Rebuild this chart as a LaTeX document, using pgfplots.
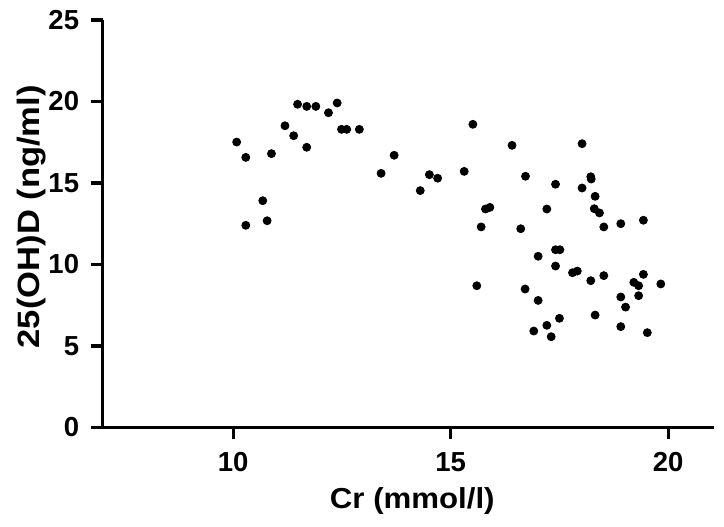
\documentclass[border=0pt]{standalone}
\usepackage{fontspec}
\setmainfont{Liberation Sans}
\usepackage{graphicx}
\usepackage{pgfplots}
\pgfplotsset{compat=1.18}
\begin{document}
\begin{tikzpicture}
\begin{axis}[
  at={(0,0)}, anchor=south west,
  x=21.75bp, y=8.145bp,
  scale only axis,
  xmin=7, xmax=21.05, ymin=0, ymax=25,
  axis lines=left,
  axis line style={-, line width=1.65bp, black},
  xtick={10,15,20}, ytick={0,5,10,15,20,25},
  tick align=outside,
  major tick length=6bp,
  every tick/.style={line width=1.65bp, black},
  tick label style={font=\fontsize{13.8}{16}\selectfont\bfseries},
  /pgf/number format/assume math mode=true,
  xticklabel shift=3bp,
  yticklabel shift=2.3bp,
  xlabel={\scalebox{1.08}[1]{Cr (mmol/l)}},
  ylabel={\scalebox{1.12}[1]{25(OH)D (ng/ml)}},
  xlabel style={font=\fontsize{14.5}{17}\selectfont\bfseries, at={([xshift=2bp,yshift=-40.4bp]axis description cs:0.5,0)}, anchor=base},
  ylabel style={font=\fontsize{15.5}{18}\selectfont\bfseries, at={([xshift=-31.6bp]axis description cs:0,0.517)}, anchor=base},
  clip=false,
]
\addplot[only marks, mark=*, mark size=2bp, black] table {
10.08 17.51
10.29 16.57
10.88 16.80
10.68 13.91
10.29 12.40
10.78 12.68
11.19 18.51
11.39 17.90
11.69 17.19
11.48 19.83
11.69 19.70
11.90 19.70
12.19 19.31
12.39 19.91
12.49 18.29
12.61 18.29
12.90 18.29
13.40 15.59
13.70 16.70
14.30 14.53
14.51 15.51
14.70 15.29
15.31 15.71
15.51 18.60
15.60 8.69
15.70 12.30
15.80 13.40
15.90 13.50
16.41 17.31
16.61 12.19
16.72 15.41
16.71 8.49
16.91 5.91
17.01 10.50
17.01 7.79
17.21 13.40
17.21 6.26
17.31 5.56
17.41 14.92
17.41 10.90
17.51 10.90
17.41 9.90
17.50 6.69
17.80 9.49
17.91 9.59
18.02 17.41
18.02 14.69
18.22 15.38
18.23 15.24
18.32 14.18
18.30 13.42
18.42 13.16
18.52 12.30
18.91 12.50
19.43 12.71
18.22 9.00
18.52 9.31
19.43 9.39
19.21 8.90
19.32 8.69
19.83 8.80
18.91 8.00
19.02 7.38
19.32 8.08
18.32 6.89
18.91 6.18
19.52 5.81
};
\end{axis}
\pgfresetboundingbox
\path (-51.35bp,-49.85bp) rectangle (310.65bp,213.65bp);
\end{tikzpicture}
\end{document}
